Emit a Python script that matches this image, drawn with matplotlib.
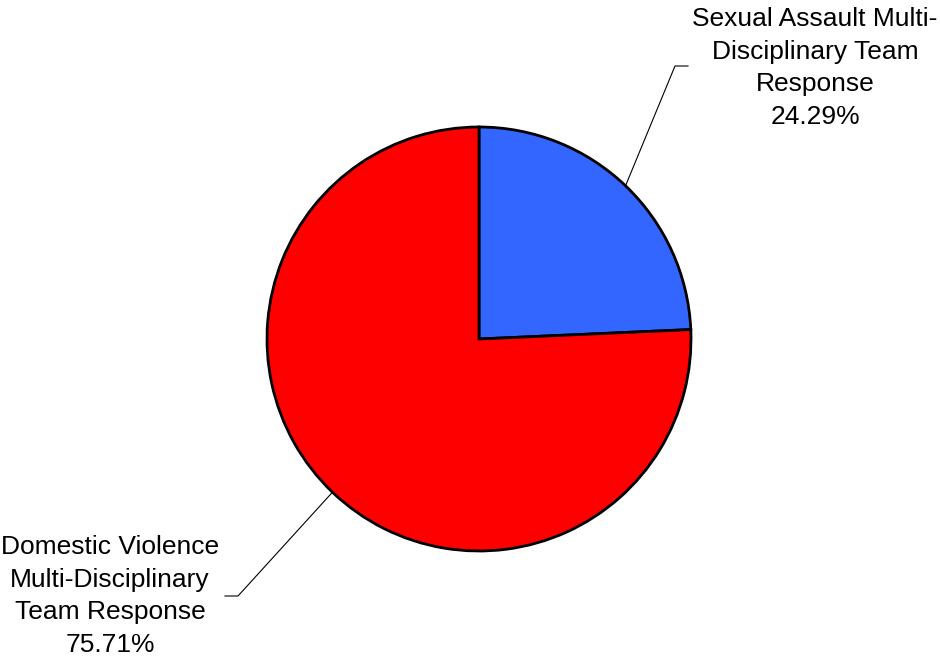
import numpy as np
import matplotlib.pyplot as plt

plt.rcParams['font.family'] = ['Liberation Sans', 'DejaVu Sans']

labels = ["Sexual Assault Multi-\nDisciplinary Team\nResponse",
          "Domestic Violence\nMulti-Disciplinary\nTeam Response"]
shares = [24.29, 75.71]
colors = ["#3366FF", "#FF0000"]

fig = plt.figure(figsize=(9.4, 6.56), dpi=100)
ax = fig.add_axes([0, 0, 1, 1])

cx, cy, r = 479, 317, 212
wedges, _ = ax.pie(shares, colors=colors, startangle=90, counterclock=False,
                   center=(cx, cy), radius=r, frame=True,
                   wedgeprops=dict(edgecolor="black", linewidth=2))
ax.set_xlim(0, 940)
ax.set_ylim(0, 656)
ax.set_aspect("equal")
ax.axis("off")

# leader line elbows and text anchors (pixel space, y up)
elbows = [((675, 590), (688, 590)), ((238, 60), (225, 60))]
text_pos = [(815, 588), (110, 60)]
for w, lab, val, (e1, e2), (tx, ty) in zip(wedges, labels, shares, elbows, text_pos):
    ang = np.deg2rad((w.theta1 + w.theta2) / 2)
    px, py = cx + r * np.cos(ang), cy + r * np.sin(ang)
    ax.plot([px, e1[0], e2[0]], [py, e1[1], e2[1]], color="black", lw=0.8)
    ax.text(tx, ty, f"{lab}\n{val:.2f}%", ha="center", va="center",
            fontsize=19, linespacing=1.47)

fig.savefig("out.png", dpi=100)
